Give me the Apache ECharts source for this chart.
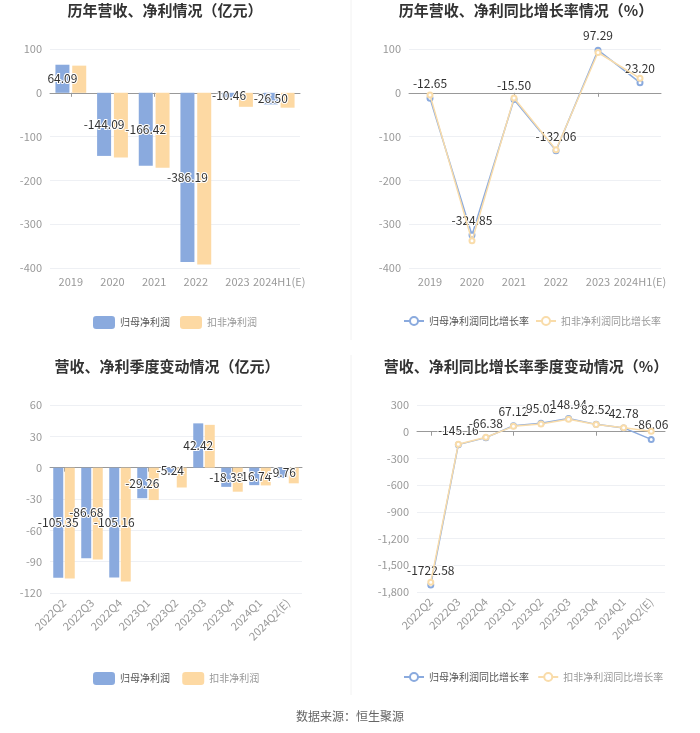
<!DOCTYPE html>
<html>
<head>
<meta charset="utf-8">
<script src="https://cdn.jsdelivr.net/npm/echarts@6/dist/echarts.min.js"></script>
<style>
  html, body { margin: 0; padding: 0; background: #fff; }
  #main { width: 700px; height: 733px; }
</style>
</head>
<body>
<div id="main"></div>
<script>
// 年度数据
var yearCats = ['2019', '2020', '2021', '2022', '2023', '2024H1(E)'];
var yearNet = [64.09, -144.09, -166.42, -386.19, -10.46, -26.50];
var yearDeduct = [62, -148, -171, -392, -32, -34];
var yearNetYoy = [-12.65, -324.85, -15.50, -132.06, 97.29, 23.20];
var yearDeductYoy = [-5, -338, -12, -130, 92, 33];

// 季度数据
var qCats = ['2022Q2', '2022Q3', '2022Q4', '2023Q1', '2023Q2', '2023Q3', '2023Q4', '2024Q1', '2024Q2(E)'];
var qNet = [-105.35, -86.68, -105.16, -29.26, -5.24, 42.42, -18.38, -16.74, -9.76];
var qDeduct = [-106, -88, -109, -31, -19, 41, -23, -17, -15];
var qNetYoy = [-1722.58, -145.16, -66.38, 67.12, 95.02, 148.94, 82.52, 42.78, -86.06];
var qDeductYoy = [-1690, -140, -62, 60, 86, 140, 80, 45, 5];

var blue = '#8aaade';
var orange = '#fdd9a3';
var orangeLine = '#f9dcaa';
var fontFam = '"Noto Sans CJK SC", "Microsoft YaHei", sans-serif';

var grids = [
    { left: 50, top: 49, width: 250, height: 219 },
    { left: 409, top: 49, width: 252, height: 219 },
    { left: 50, top: 405, width: 252, height: 188 },
    { left: 417, top: 405, width: 248, height: 187 }
];

function labelStyle(pos) {
    return {
        show: true,
        position: pos,
        color: '#333',
        fontSize: 12,
        textBorderColor: '#fff',
        textBorderWidth: 2,
        formatter: function (p) { return p.value.toFixed(2); }
    };
}

var xAxes = [];
var yAxes = [];
var axisDefs = [
    { cats: yearCats, min: -400, max: 100, interval: 100, rotate: 0 },
    { cats: yearCats, min: -400, max: 100, interval: 100, rotate: 0 },
    { cats: qCats, min: -120, max: 60, interval: 30, rotate: 45 },
    { cats: qCats, min: -1800, max: 300, interval: 300, rotate: 45 }
];
axisDefs.forEach(function (d, i) {
    // 底部标签轴
    xAxes.push({
        type: 'category',
        gridIndex: i,
        position: 'bottom',
        data: d.cats,
        axisLine: { show: false, onZero: false },
        axisTick: { show: false },
        axisLabel: { color: '#999', fontSize: 11, rotate: d.rotate, margin: 8, interval: 0 }
    });
    // 零线轴
    xAxes.push({
        type: 'category',
        gridIndex: i,
        position: 'bottom',
        data: d.cats,
        axisLine: { show: true, onZero: true, lineStyle: { color: '#999' } },
        axisTick: { show: true, alignWithLabel: true, length: 4, lineStyle: { color: '#999' } },
        axisLabel: { show: false }
    });
    yAxes.push({
        type: 'value',
        gridIndex: i,
        min: d.min,
        max: d.max,
        interval: d.interval,
        axisLine: { show: false },
        axisTick: { show: false },
        axisLabel: { color: '#999', fontSize: 11, margin: 8 },
        splitLine: { lineStyle: { color: '#eef0f4' } }
    });
});

function barSeries(name, data, color, idx, width, gap, withLabel) {
    return {
        name: name,
        type: 'bar',
        xAxisIndex: idx * 2,
        yAxisIndex: idx,
        data: data,
        barWidth: width,
        barGap: gap,
        itemStyle: { color: color },
        label: withLabel ? labelStyle('inside') : { show: false }
    };
}

function lineSeries(name, data, color, idx, withLabel) {
    return {
        name: name,
        type: 'line',
        xAxisIndex: idx * 2,
        yAxisIndex: idx,
        data: data,
        symbol: 'emptyCircle',
        symbolSize: 5,
        lineStyle: { color: color, width: 1.5 },
        itemStyle: { color: color, borderWidth: 1.5 },
        z: withLabel ? 2 : 3,
        label: withLabel ? labelStyle('top') : { show: false }
    };
}

var titles = [
    { text: '历年营收、净利情况（亿元）', left: 165, top: 3 },
    { text: '历年营收、净利同比增长率情况（%）', left: 526, top: 3 },
    { text: '营收、净利季度变动情况（亿元）', left: 167, top: 359 },
    { text: '营收、净利同比增长率季度变动情况（%）', left: 526, top: 359 }
].map(function (t) {
    return {
        text: t.text,
        left: t.left,
        top: t.top,
        padding: 0,
        textAlign: 'center',
        textStyle: { fontSize: 15, fontWeight: 'bold', color: '#333', fontFamily: fontFam }
    };
});
titles.push({
    text: '数据来源：恒生聚源',
    left: 350,
    top: 710,
    padding: 0,
    textAlign: 'center',
    textStyle: { fontSize: 12, fontWeight: 'normal', color: '#666', fontFamily: fontFam }
});

var legendText = function (name) {
    return name.indexOf('归母') === 0 ? 'a' : 'b';
};

function makeLegend(names, left, top, w, h, gap) {
    return {
        data: names,
        left: left,
        top: top,
        width: 320,
        padding: 0,
        itemWidth: w,
        itemHeight: h,
        itemGap: gap,
        formatter: function (n) { return '{' + legendText(n) + '|' + n + '}'; },
        textStyle: {
            fontSize: 10,
            fontFamily: fontFam,
            rich: {
                a: { color: '#555', fontSize: 10 },
                b: { color: '#999', fontSize: 10 }
            }
        }
    };
}

var legends = [
    makeLegend(['归母净利润', '扣非净利润'], 93, 316, 22, 13, 10),
    makeLegend(['归母净利润同比增长率', '扣非净利润同比增长率'], 403, 316, 20, 10, 6),
    makeLegend(['归母净利润 ', '扣非净利润 '], 93, 672, 22, 13, 10),
    makeLegend(['归母净利润同比增长率 ', '扣非净利润同比增长率 '], 403, 672, 20, 10, 6)
];

var series = [
    barSeries('归母净利润', yearNet, blue, 0, 14, '20%', true),
    barSeries('扣非净利润', yearDeduct, orange, 0, 14, '20%', false),
    lineSeries('归母净利润同比增长率', yearNetYoy, blue, 1, true),
    lineSeries('扣非净利润同比增长率', yearDeductYoy, orangeLine, 1, false),
    barSeries('归母净利润 ', qNet, blue, 2, 10, '15%', true),
    barSeries('扣非净利润 ', qDeduct, orange, 2, 10, '15%', false),
    lineSeries('归母净利润同比增长率 ', qNetYoy, blue, 3, true),
    lineSeries('扣非净利润同比增长率 ', qDeductYoy, orangeLine, 3, false)
];

var chart = echarts.init(document.getElementById('main'));
chart.setOption({
    backgroundColor: '#fff',
    textStyle: { fontFamily: fontFam },
    animation: false,
    title: titles,
    legend: legends,
    grid: grids,
    xAxis: xAxes,
    yAxis: yAxes,
    series: series,
    graphic: [
        {
            type: 'line',
            shape: { x1: 351, y1: 0, x2: 351, y2: 340 },
            style: { stroke: '#f2f2f2', lineWidth: 1 }
        },
        {
            type: 'line',
            shape: { x1: 351, y1: 355, x2: 351, y2: 695 },
            style: { stroke: '#f2f2f2', lineWidth: 1 }
        }
    ]
});
</script>
</body>
</html>
